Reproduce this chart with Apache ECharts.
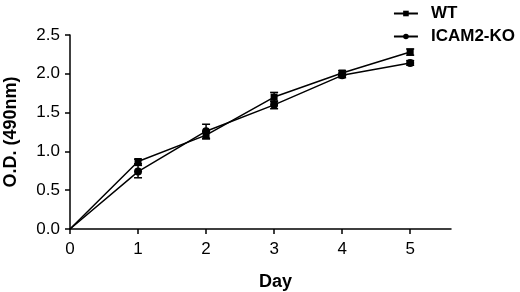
<!DOCTYPE html>
<html><head><meta charset="utf-8">
<script src="https://cdn.jsdelivr.net/npm/echarts@6/dist/echarts.min.js"></script>
<style>html,body{margin:0;padding:0;background:#fff}#c{width:520px;height:292px}</style>
</head><body><div id="c"></div>
<script>
var days = [0, 1, 2, 3, 4, 5];
var wtValues = [0, 0.87, 1.21, 1.70, 2.01, 2.28];
var wtErrors = [0, 0.03, 0.05, 0.06, 0.03, 0.04];
var koValues = [0, 0.74, 1.26, 1.60, 1.98, 2.14];
var koErrors = [0, 0.08, 0.09, 0.05, 0.03, 0.03];
var xTicks = [0, 1, 2, 3, 4, 5];

function pairs(v){ return days.map(function(d,i){
  var item = {value:[d, v[i]]};
  if (d === 0) item.symbol = 'none';
  return item; }); }
function errData(v,e){ return days.map(function(d,i){return [d, v[i]-e[i], v[i]+e[i]];}).filter(function(r){return r[2]>r[1];}); }
function errSeries(v,e){
  return {
    type:'custom', silent:true, z:3,
    data: errData(v,e),
    renderItem: function(params, api){
      var x = api.value(0);
      var lo = api.coord([x, api.value(1)]);
      var hi = api.coord([x, api.value(2)]);
      var w = 4;
      var st = {stroke:'#000', lineWidth:1.5};
      return {type:'group', children:[
        {type:'line', shape:{x1:lo[0],y1:lo[1],x2:hi[0],y2:hi[1]}, style:st},
        {type:'line', shape:{x1:lo[0]-w,y1:lo[1],x2:lo[0]+w,y2:lo[1]}, style:st},
        {type:'line', shape:{x1:hi[0]-w,y1:hi[1],x2:hi[0]+w,y2:hi[1]}, style:st}
      ]};
    }
  };
}
var chart = echarts.init(document.getElementById('c'), null, {renderer:'canvas'});
var font = 'Liberation Sans, Arial, sans-serif';
chart.setOption({
  animation:false,
  backgroundColor:'#fff',
  grid:{left:70, top:35, right:69, bottom:63, containLabel:false, outerBoundsMode:'none'},
  legend:{
    right:0, top:0, orient:'vertical', itemGap:6, itemWidth:24, itemHeight:7,
    data:['WT','ICAM2-KO'],
    textStyle:{fontFamily:font, fontWeight:'bold', fontSize:17, color:'#000', padding:[0,0,0,8]}
  },
  xAxis:{
    type:'value', min:0, max:5.6,
    name:'Day', nameLocation:'middle', nameGap:44,
    nameTextStyle:{fontFamily:font, fontWeight:'bold', fontSize:18, color:'#000', padding:[0,0,0,30]},
    axisLine:{lineStyle:{color:'#000', width:1.5}},
    axisTick:{show:true, length:5, lineStyle:{color:'#000', width:1.5}, customValues:xTicks},
    axisLabel:{fontFamily:font, fontSize:17, color:'#000', margin:12, customValues:xTicks},
    splitLine:{show:false}
  },
  yAxis:{
    type:'value', min:0, max:2.5, interval:0.5,
    name:'O.D. (490nm)', nameLocation:'middle', nameGap:50,
    nameTextStyle:{fontFamily:font, fontWeight:'bold', fontSize:18, color:'#000'},
    axisLine:{show:true, lineStyle:{color:'#000', width:1.5}},
    axisTick:{show:true, length:5, lineStyle:{color:'#000', width:1.5}},
    axisLabel:{fontFamily:font, fontSize:17, color:'#000', margin:10,
      formatter:function(v){return v.toFixed(1);}},
    splitLine:{show:false}
  },
  series:[
    {name:'WT', type:'line', data:pairs(wtValues), symbol:'rect', symbolSize:7,
      showAllSymbol:true, color:'#000',
      lineStyle:{color:'#000', width:1.5}, itemStyle:{color:'#000'}, z:4},
    {name:'ICAM2-KO', type:'line', data:pairs(koValues), symbol:'circle', symbolSize:8,
      color:'#000',
      lineStyle:{color:'#000', width:1.5}, itemStyle:{color:'#000'}, z:4},
    errSeries(wtValues, wtErrors),
    errSeries(koValues, koErrors)
  ]
});
</script></body></html>
